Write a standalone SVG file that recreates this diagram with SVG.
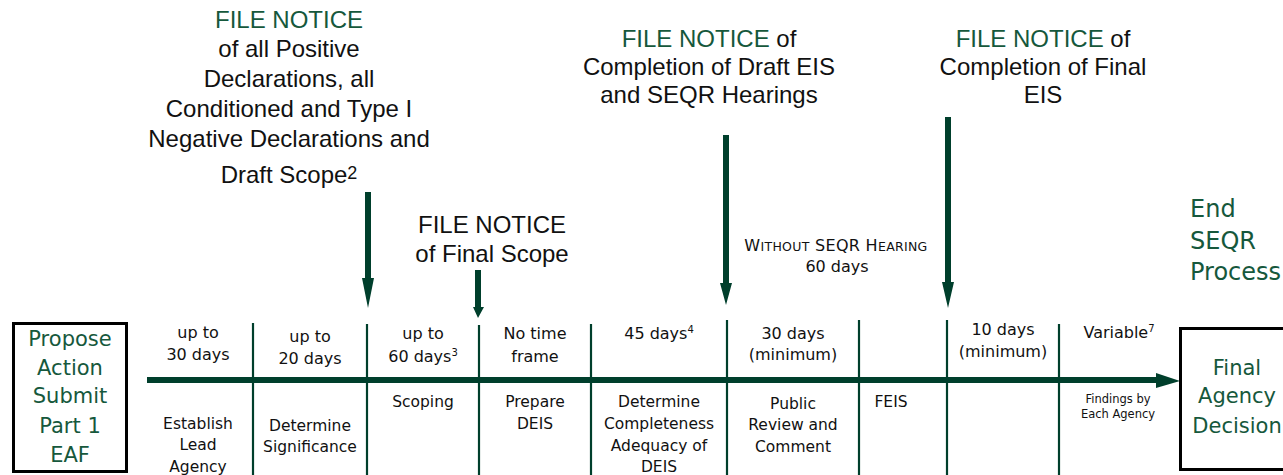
<svg xmlns="http://www.w3.org/2000/svg" width="1283" height="475" viewBox="0 0 1283 475">
<style>
  .top { font-family: "Liberation Sans", Arial, sans-serif; font-size: 24px; fill: #111; text-anchor: middle; }
  .grn { fill: #16583c; }
  .box { font-family: "DejaVu Sans", Verdana, sans-serif; font-size: 21px; fill: #16583c; text-anchor: middle; }
  .end { font-family: "DejaVu Sans", Verdana, sans-serif; font-size: 24px; fill: #16583c; }
  .lab { font-family: "DejaVu Sans", Verdana, sans-serif; font-size: 16px; fill: #111; text-anchor: middle; }
  .bot { font-family: "DejaVu Sans", Verdana, sans-serif; font-size: 15.5px; fill: #111; text-anchor: middle; }
  .sm { font-family: "DejaVu Sans", Verdana, sans-serif; font-size: 11.5px; fill: #111; text-anchor: middle; }
  .frame { fill: #fff; stroke: #000; stroke-width: 3; }
  .div { stroke: #003f2c; stroke-width: 2.2; }
  .arr { fill: #003f2c; }
</style>
<rect width="1283" height="475" fill="#fff"/>

<g id="connectors">
  <g id="dividers">
    <line class="div" x1="253" y1="323" x2="253" y2="475"/>
    <line class="div" x1="367" y1="324" x2="367" y2="475"/>
    <line class="div" x1="479" y1="325" x2="479" y2="475"/>
    <line class="div" x1="591" y1="324" x2="591" y2="475"/>
    <line class="div" x1="727" y1="320" x2="727" y2="475"/>
    <line class="div" x1="859" y1="320" x2="859" y2="475"/>
    <line class="div" x1="947" y1="320" x2="947" y2="475"/>
    <line class="div" x1="1059" y1="324" x2="1059" y2="475"/>
  </g>
  <g id="timeline">
    <rect class="arr" x="147" y="377" width="1012" height="6"/>
    <polygon class="arr" points="1156,373 1180,381 1156,388"/>
  </g>
  <g id="notice-arrows">
    <polygon class="arr" points="365,192 371,192 371,278 374,278 368,308 362,278 365,278"/>
    <polygon class="arr" points="475,270 481,270 481,307 484,307 478,318 473,307 475,307"/>
    <polygon class="arr" points="723,135 729,135 729,283 732,283 726,305 720,283 723,283"/>
    <polygon class="arr" points="945,117 951,117 951,282 954,282 948,308 942,282 945,282"/>
  </g>
</g>

<g id="start-box">
  <rect class="frame" x="13.5" y="323.5" width="113" height="148"/>
  <text class="box" x="70" y="346">Propose</text>
  <text class="box" x="70" y="375">Action</text>
  <text class="box" x="70" y="403">Submit</text>
  <text class="box" x="70" y="433">Part 1</text>
  <text class="box" x="70" y="462">EAF</text>
</g>

<g id="end-box">
  <rect class="frame" x="1180.5" y="328.5" width="110" height="141"/>
  <text class="box" x="1237" y="375">Final</text>
  <text class="box" x="1237" y="403">Agency</text>
  <text class="box" x="1237" y="433">Decision</text>
</g>

<g id="end-seqr">
  <text class="end" x="1190" y="217">End</text>
  <text class="end" x="1190" y="249">SEQR</text>
  <text class="end" x="1190" y="280">Process</text>
</g>

<g id="notice-1">
  <text class="top grn" x="289" y="28">FILE NOTICE</text>
  <text class="top" x="289" y="57">of all Positive</text>
  <text class="top" x="289" y="87">Declarations, all</text>
  <text class="top" x="289" y="117">Conditioned and Type I</text>
  <text class="top" x="289" y="147">Negative Declarations and</text>
  <text class="top" x="289" y="183">Draft Scope<tspan font-size="18" dy="-4">2</tspan></text>
</g>

<g id="notice-2">
  <text class="top" x="492" y="233">FILE NOTICE</text>
  <text class="top" x="492" y="262">of Final Scope</text>
</g>

<g id="notice-3">
  <text class="top" x="709" y="47"><tspan class="grn">FILE NOTICE</tspan> of</text>
  <text class="top" x="709" y="75">Completion of Draft EIS</text>
  <text class="top" x="709" y="103">and SEQR Hearings</text>
</g>

<g id="notice-4">
  <text class="top" x="1043" y="47"><tspan class="grn">FILE NOTICE</tspan> of</text>
  <text class="top" x="1043" y="75">Completion of Final</text>
  <text class="top" x="1043" y="103">EIS</text>
</g>

<g id="without-hearing">
  <text class="lab" x="836" y="251" letter-spacing="0.3"><tspan font-size="16">W</tspan><tspan font-size="12.5">ITHOUT</tspan> <tspan font-size="16">SEQR</tspan>  <tspan font-size="16">H</tspan><tspan font-size="12.5">EARING</tspan></text>
  <text class="lab" x="837" y="272">60 days</text>
</g>

<g id="stage-1">
  <text class="lab" x="198" y="338">up to</text>
  <text class="lab" x="198" y="360">30 days</text>
  <text class="bot" x="198" y="429">Establish</text>
  <text class="bot" x="198" y="450">Lead</text>
  <text class="bot" x="198" y="472">Agency</text>
</g>

<g id="stage-2">
  <text class="lab" x="310" y="342">up to</text>
  <text class="lab" x="310" y="364">20 days</text>
  <text class="bot" x="310" y="431">Determine</text>
  <text class="bot" x="310" y="452">Significance</text>
</g>

<g id="stage-3">
  <text class="lab" x="423" y="339">up to</text>
  <text class="lab" x="423" y="362">60 days<tspan font-size="10" dy="-6">3</tspan></text>
  <text class="bot" x="423" y="407">Scoping</text>
</g>

<g id="stage-4">
  <text class="lab" x="535" y="339">No time</text>
  <text class="lab" x="535" y="362">frame</text>
  <text class="bot" x="535" y="407">Prepare</text>
  <text class="bot" x="535" y="429">DEIS</text>
</g>

<g id="stage-5">
  <text class="lab" x="659" y="339">45 days<tspan font-size="10" dy="-6">4</tspan></text>
  <text class="bot" x="659" y="407">Determine</text>
  <text class="bot" x="659" y="429">Completeness</text>
  <text class="bot" x="659" y="451">Adequacy of</text>
  <text class="bot" x="659" y="472">DEIS</text>
</g>

<g id="stage-6">
  <text class="lab" x="793" y="339">30 days</text>
  <text class="lab" x="793" y="360">(minimum)</text>
  <text class="bot" x="793" y="409">Public</text>
  <text class="bot" x="793" y="430">Review and</text>
  <text class="bot" x="793" y="452">Comment</text>
</g>

<g id="stage-7">
  <text class="bot" x="891" y="407">FEIS</text>
</g>

<g id="stage-8">
  <text class="lab" x="1003" y="335">10 days</text>
  <text class="lab" x="1003" y="357">(minimum)</text>
</g>

<g id="stage-9">
  <text class="lab" x="1119" y="338" font-size="15">Variable<tspan font-size="10" dy="-6">7</tspan></text>
  <text class="sm" x="1118" y="403">Findings by</text>
  <text class="sm" x="1118" y="418">Each Agency</text>
</g>
</svg>
